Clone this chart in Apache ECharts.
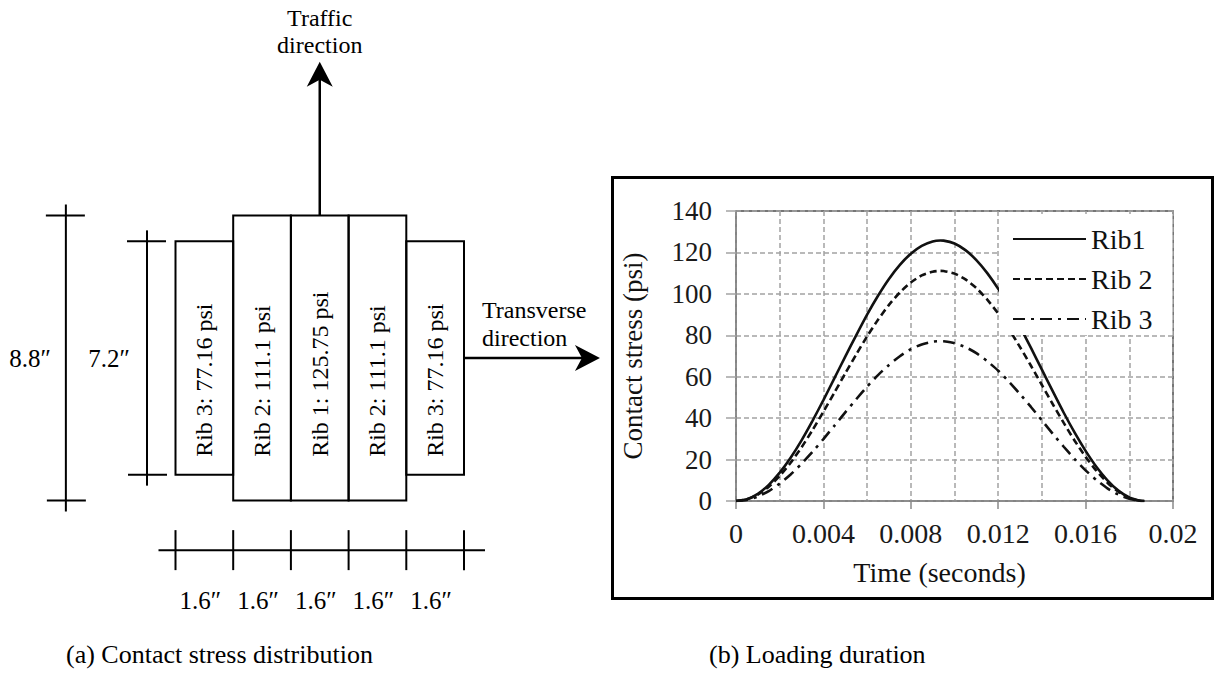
<!DOCTYPE html>
<html>
<head>
<meta charset="utf-8">
<script src="https://cdn.jsdelivr.net/npm/echarts@6/dist/echarts.min.js"></script>
<style>
  html, body { margin: 0; padding: 0; background: #fff; }
  #c { width: 1214px; height: 683px; }
</style>
</head>
<body>
<div id="c"></div>
<script>
// ---- (b) loading pulse: contact stress (psi) against time (s) for each rib ----
const timeSec = [0, 0.0005, 0.001, 0.0015, 0.002, 0.0025, 0.003, 0.0035, 0.004, 0.0045,
  0.005, 0.0055, 0.006, 0.0065, 0.007, 0.0075, 0.008, 0.0085, 0.009, 0.00935,
  0.0095, 0.01, 0.0105, 0.011, 0.0115, 0.012, 0.0125, 0.013, 0.0135, 0.014,
  0.0145, 0.015, 0.0155, 0.016, 0.0165, 0.017, 0.0175, 0.018, 0.0185, 0.0187];
const rib1Stress = [0, 0.9, 3.5, 7.8, 13.7, 20.9, 29.3, 38.7, 48.7, 59.2,
  69.7, 80.0, 90.0, 99.1, 107.2, 114.0, 119.4, 123.2, 125.3, 125.75,
  125.7, 124.3, 121.1, 116.3, 110.0, 102.4, 93.7, 84.1, 73.9, 63.4,
  52.9, 42.6, 33.0, 24.2, 16.4, 10.0, 5.0, 1.7, 0.1, 0];
const rib2Stress = [0, 0.8, 3.1, 6.9, 12.1, 18.5, 25.9, 34.2, 43.1, 52.3,
  61.6, 70.7, 79.5, 87.5, 94.7, 100.7, 105.5, 108.9, 110.7, 111.1,
  111.0, 109.8, 107.0, 102.8, 97.2, 90.5, 82.8, 74.3, 65.3, 56.0,
  46.7, 37.7, 29.1, 21.3, 14.5, 8.8, 4.5, 1.5, 0.1, 0];
const rib3Stress = [0, 0.5, 2.2, 4.8, 8.4, 12.8, 18.0, 23.7, 29.9, 36.3,
  42.8, 49.1, 55.2, 60.8, 65.7, 69.9, 73.3, 75.6, 76.9, 77.16,
  77.1, 76.2, 74.3, 71.4, 67.5, 62.9, 57.5, 51.6, 45.4, 38.9,
  32.4, 26.2, 20.2, 14.8, 10.1, 6.1, 3.1, 1.1, 0.1, 0];
const seriesNames = ['Rib1', 'Rib 2', 'Rib 3'];

// ---- (a) footprint: ribs left to right, widths and lengths in inches ----
const ribNames = ['Rib 3', 'Rib 2', 'Rib 1', 'Rib 2', 'Rib 3'];
const ribStress = [77.16, 111.1, 125.75, 111.1, 77.16];
const ribWidthIn = [1.6, 1.6, 1.6, 1.6, 1.6];
const ribLengthIn = [7.2, 8.8, 8.8, 8.8, 7.2];
const lengthDimsIn = [8.8, 7.2];

const captions = ['(a) Contact stress distribution', '(b) Loading duration'];

const SERIF = '"Liberation Serif", "Times New Roman", serif';
const INK = '#000';

// left edge of every rib, measured from the left side of the footprint
const ribEdges = ribWidthIn.reduce((acc, w) => { acc.push(acc[acc.length - 1] + w); return acc; }, [0]);

function seg(x1, y1, x2, y2, w) {
  return { type: 'line', shape: { x1, y1, x2, y2 }, style: { stroke: INK, lineWidth: w || 2 } };
}
function label(x, y, text, size, align, rot) {
  return {
    type: 'text', x, y, rotation: rot || 0,
    style: { text, font: size + 'px ' + SERIF, fill: INK, align: align || 'center', verticalAlign: 'middle' }
  };
}
function arrowHead(tip, dx, dy) {
  // dx, dy: unit direction of travel
  const nx = -dy, ny = dx, L = 25, H = 13, N = 18;
  return {
    type: 'polygon',
    shape: { points: [
      [tip[0], tip[1]],
      [tip[0] - L * dx + H * nx, tip[1] - L * dy + H * ny],
      [tip[0] - N * dx, tip[1] - N * dy],
      [tip[0] - L * dx - H * nx, tip[1] - L * dy - H * ny]
    ] },
    style: { fill: INK }
  };
}

// ribs: rectangles with their stress written along them
function renderRib(params, api) {
  const i = params.dataIndex;
  const x0 = api.value(0), w = api.value(1), len = api.value(2);
  const tl = api.coord([x0, len / 2]);
  const br = api.coord([x0 + w, -len / 2]);
  const base = api.coord([x0 + w / 2, -3.05]);
  return {
    type: 'group',
    children: [
      { type: 'rect', shape: { x: tl[0], y: tl[1], width: br[0] - tl[0], height: br[1] - tl[1] },
        style: { fill: 'none', stroke: INK, lineWidth: 2 } },
      label(base[0], base[1], ribNames[i] + ': ' + ribStress[i] + ' psi', 24, 'left', Math.PI / 2)
    ]
  };
}

// vertical length dimensions left of the footprint
const LEN_DIM_X = [-3.04, -0.79];
const LEN_LABEL_X = [-4.03, -1.84];
function renderLengthDim(params, api) {
  const i = params.dataIndex;
  const len = api.value(0);
  const top = api.coord([LEN_DIM_X[i], len / 2]);
  const bot = api.coord([LEN_DIM_X[i], -len / 2]);
  const lab = api.coord([LEN_LABEL_X[i], 0]);
  return {
    type: 'group',
    children: [
      seg(top[0], top[1] - 11, bot[0], bot[1] + 11),
      seg(top[0] - 20, top[1], top[0] + 19, top[1]),
      seg(bot[0] - 19, bot[1], bot[0] + 20, bot[1]),
      label(lab[0], lab[1], len + '\u2033', 25, 'center')
    ]
  };
}

// horizontal width dimensions below the footprint
const DIM_Y = -5.93;
function renderWidthDim(params, api) {
  const i = params.dataIndex, last = ribWidthIn.length - 1;
  const x0 = api.value(0), w = api.value(1);
  const a = api.coord([x0, DIM_Y]), b = api.coord([x0 + w, DIM_Y]);
  const kids = [
    seg(i === 0 ? a[0] - 17 : a[0], a[1], i === last ? b[0] + 21 : b[0], b[1]),
    seg(a[0], a[1] - 20, a[0], a[1] + 20),
    label((a[0] + b[0]) / 2 - 4, a[1] + 50, w + '\u2033', 25, 'center')
  ];
  if (i === last) kids.push(seg(b[0], b[1] - 20, b[0], b[1] + 20));
  return { type: 'group', children: kids };
}

// direction arrows with their captions
function renderArrows(params, api) {
  const ribTop = Math.max.apply(null, ribLengthIn) / 2;
  const mid = ribEdges[ribEdges.length - 1] / 2;
  const tStart = api.coord([mid, ribTop]);
  const tTip = api.coord([mid, 9.14]);
  const sStart = api.coord([ribEdges[ribEdges.length - 1], 0]);
  const sTip = api.coord([11.77, 0]);
  const trafficTxt = api.coord([mid, 10.49]);
  const trafficTxt2 = api.coord([mid, 9.66]);
  const transTxt = api.coord([8.5, 1.48]);
  const transTxt2 = api.coord([8.5, 0.62]);
  return {
    type: 'group',
    children: [
      seg(tStart[0], tStart[1], tTip[0], tTip[1] + 12, 2.5),
      arrowHead(tTip, 0, -1),
      seg(sStart[0], sStart[1], sTip[0] - 12, sTip[1], 2.5),
      arrowHead(sTip, 1, 0),
      label(trafficTxt[0], trafficTxt[1], 'Traffic', 24, 'center'),
      label(trafficTxt2[0], trafficTxt2[1], 'direction', 24, 'center'),
      label(transTxt[0], transTxt[1], 'Transverse', 24, 'left'),
      label(transTxt2[0], transTxt2[1], 'direction', 24, 'left')
    ]
  };
}

const lineColor = '#111';
const gridDash = { color: '#a3a3a3', width: 1.5, type: [5, 3] };

const chart = echarts.init(document.getElementById('c'), null, { renderer: 'svg', width: 1214, height: 683 });

chart.setOption({
  animation: false,
  backgroundColor: '#fff',
  title: [
    { text: captions[0], left: 66, top: 641, padding: 0,
      textStyle: { fontFamily: SERIF, fontSize: 26, fontWeight: 'normal', color: INK } },
    { text: captions[1], left: 709, top: 641, padding: 0,
      textStyle: { fontFamily: SERIF, fontSize: 26, fontWeight: 'normal', color: INK } }
  ],
  graphic: [
    { type: 'rect', shape: { x: 612.5, y: 177.5, width: 600, height: 421 },
      style: { fill: 'none', stroke: '#000', lineWidth: 3 }, z: 10 }
  ],
  legend: {
    orient: 'vertical',
    left: 999, top: 214,
    itemWidth: 73, itemHeight: 14, itemGap: 12,
    padding: [11, 20, 2, 13],
    backgroundColor: '#fff',
    itemStyle: { opacity: 0 },
    textStyle: { fontFamily: SERIF, fontSize: 28, color: '#111', lineHeight: 28 },
    data: seriesNames
  },
  grid: [
    { left: 736, top: 211, right: 41, bottom: 182, show: true, borderColor: '#4a4a4a', borderWidth: 1.5 },
    { left: 175.5, width: 288.5, top: 215.44, height: 285.12 }
  ],
  xAxis: [
    {
      type: 'value', gridIndex: 0, min: 0, max: 0.02, interval: 0.004,
      name: 'Time (seconds)', nameLocation: 'middle', nameGap: 57,
      nameTextStyle: { fontFamily: SERIF, fontSize: 28, color: '#111', padding: [0, 30, 0, 0] },
      axisLine: { show: true, lineStyle: { color: '#8a8a8a', width: 1.5 } },
      axisTick: { show: true, length: 8, lineStyle: { color: '#8a8a8a', width: 1.5 } },
      axisLabel: { fontFamily: SERIF, fontSize: 28, color: '#1a1a1a', margin: 18,
        formatter: v => String(+v.toFixed(3)) },
      splitLine: { show: true, lineStyle: gridDash },
      minorTick: { show: true, splitNumber: 2, length: 0 },
      minorSplitLine: { show: true, lineStyle: gridDash }
    },
    { type: 'value', gridIndex: 1, min: 0, max: 8, show: false }
  ],
  yAxis: [
    {
      type: 'value', gridIndex: 0, min: 0, max: 140, interval: 20,
      name: 'Contact stress (psi)', nameLocation: 'middle', nameGap: 90,
      nameTextStyle: { fontFamily: SERIF, fontSize: 27, color: '#111' },
      axisLine: { show: true, lineStyle: { color: '#8a8a8a', width: 1.5 } },
      axisTick: { show: true, length: 10, lineStyle: { color: '#a3a3a3', width: 1.5 } },
      axisLabel: { fontFamily: SERIF, fontSize: 27, color: '#1a1a1a', margin: 24 },
      splitLine: { show: true, lineStyle: gridDash }
    },
    { type: 'value', gridIndex: 1, min: -4.4, max: 4.4, show: false }
  ],
  series: [
    {
      name: seriesNames[0], type: 'line', xAxisIndex: 0, yAxisIndex: 0,
      data: timeSec.map((t, i) => [t, rib1Stress[i]]),
      symbol: 'none', smooth: 0.2,
      lineStyle: { color: lineColor, width: 2.6, type: 'solid' },
      itemStyle: { color: lineColor }
    },
    {
      name: seriesNames[1], type: 'line', xAxisIndex: 0, yAxisIndex: 0,
      data: timeSec.map((t, i) => [t, rib2Stress[i]]),
      symbol: 'none', smooth: 0.2,
      lineStyle: { color: lineColor, width: 2.6, type: [7, 4] },
      itemStyle: { color: lineColor }
    },
    {
      name: seriesNames[2], type: 'line', xAxisIndex: 0, yAxisIndex: 0,
      data: timeSec.map((t, i) => [t, rib3Stress[i]]),
      symbol: 'none', smooth: 0.2,
      lineStyle: { color: lineColor, width: 2.6, type: [12, 6, 3, 6] },
      itemStyle: { color: lineColor }
    },
    {
      name: 'ribs', type: 'custom', xAxisIndex: 1, yAxisIndex: 1,
      data: ribWidthIn.map((w, i) => [ribEdges[i], w, ribLengthIn[i]]),
      renderItem: renderRib, silent: true
    },
    {
      name: 'lengths', type: 'custom', xAxisIndex: 1, yAxisIndex: 1,
      data: lengthDimsIn.map(v => [v]),
      renderItem: renderLengthDim, silent: true
    },
    {
      name: 'widths', type: 'custom', xAxisIndex: 1, yAxisIndex: 1,
      data: ribWidthIn.map((w, i) => [ribEdges[i], w]),
      renderItem: renderWidthDim, silent: true
    },
    {
      name: 'directions', type: 'custom', xAxisIndex: 1, yAxisIndex: 1,
      data: [[0]],
      renderItem: renderArrows, silent: true
    }
  ]
});
</script>
</body>
</html>
